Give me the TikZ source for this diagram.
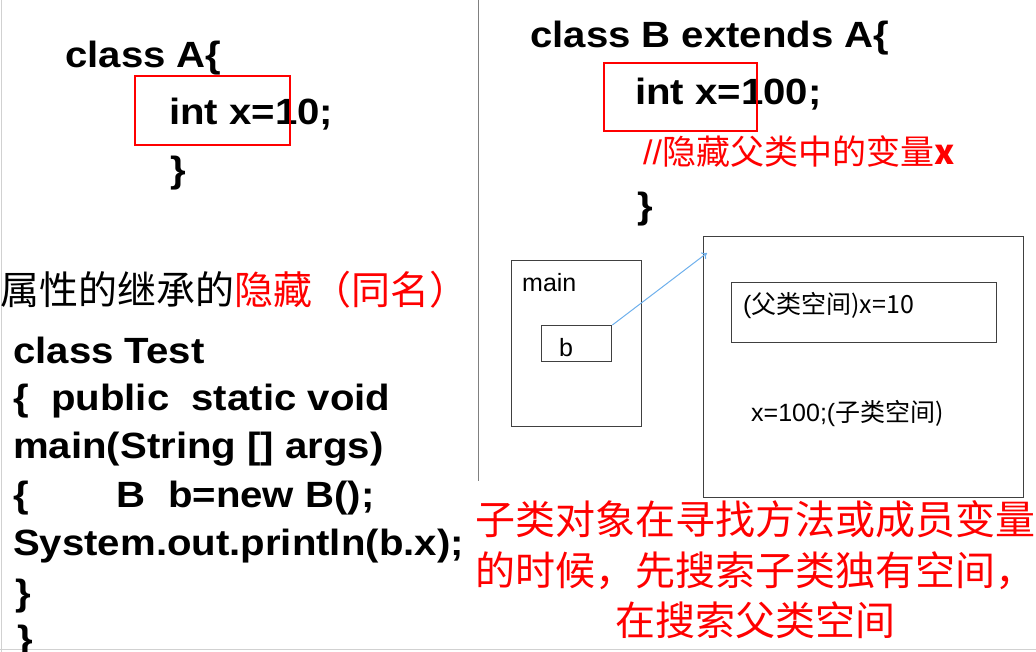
\documentclass[tikz,border=0pt]{standalone}
\usepackage{fontspec}
\setmainfont{Liberation Sans}
\newfontfamily\cjk{Noto Sans CJK SC}
\newfontfamily\codefont[FakeStretch=1.1]{Liberation Sans}
\usepackage{xcolor}
\definecolor{boxgray}{gray}{0.25}
\definecolor{edgegray}{gray}{0.82}
\definecolor{arrowblue}{RGB}{110,176,236}
\usetikzlibrary{arrows.meta}

\begin{document}
\begin{tikzpicture}[x=1pt,y=-1pt,
  code/.style={font=\codefont\bfseries\fontsize{36.5}{44}\selectfont, anchor=base west, inner sep=0pt},
  lbl/.style={font=\fontsize{25}{30}\selectfont, anchor=base west, inner sep=0pt},
  box/.style={draw=boxgray, line width=1.4pt, inner sep=0pt, anchor=north west},
  hlbox/.style={draw=red, line width=2.4pt, inner sep=0pt, anchor=north west},
  ref/.style={draw=arrowblue, line width=1pt, -{To[length=5pt,width=8pt]}}]
\useasboundingbox (0,0) rectangle (1036,652);
\draw[edgegray, line width=1.2pt] (1.5,0) -- (1.5,652) (0,649.5) -- (1036,649.5);
\draw[gray, line width=1pt] (478,0) -- (478,481);

\node[code] (clsA) at (65,68) {class A\{};
\node[code] (intA) at (169,125) {int x=10;};
\node[code] (endA) at (170,183) {\}};
\node[hlbox, minimum width=155, minimum height=69] (hlA) at (134,75) {};

\node[code] (clsB) at (530,48) {class B extends A\{};
\node[code] (intB) at (635,105) {int x=100;};
\node[anchor=west, inner sep=0pt, text=red, font=\fontsize{34}{40}\selectfont] (hide) at (643,151) {//\cjk{隐藏父类中的变量}\textbf{x}};
\node[code] (endB) at (637,219) {\}};
\node[hlbox, minimum width=153, minimum height=68] (hlB) at (603,62) {};

\node[anchor=west, inner sep=0pt, font=\cjk\fontsize{39}{39}\selectfont] (title) at (0,290) {属性的继承的\textcolor{red}{隐藏（同名）}};

\node[code] (test1) at (13,363) {class Test};
\node[code] (test2) at (13,410) {\{\ \ public\ \ static void};
\node[code] (test3) at (13,458) {main(String [] args)};
\node[code] (test4) at (13,507) {\{\hspace{88pt}B\ \ b=new B();};
\node[code] (test5) at (13,555) {System.out.println(b.x);};
\node[code] (test6) at (15,605) {\}};
\node[code] (test7) at (17,651) {\}};

\node[box, minimum width=130, minimum height=166] (mainbox) at (511,260) {};
\node[lbl] (mainlbl) at (522,291) {main};
\node[box, minimum width=70, minimum height=36] (bbox) at (541,325) {};
\node[lbl] (blbl) at (559,356) {b};

\node[box, minimum width=320, minimum height=261] (heap) at (703,236) {};
\node[box, minimum width=265, minimum height=60] (superbox) at (731,282) {};
\node[lbl] (superlbl) at (743,313) {(\cjk{父类空间})x=10};
\node[lbl] (sublbl) at (751,421) {x=100;(\cjk{子类空间})};

\coordinate (heapin) at (707,253);
\draw[ref] (bbox.north east) -- (heapin);

\node[align=center, inner sep=0pt, text=red, font=\cjk\fontsize{40}{50.5}\selectfont] (rule) at (755,570) {子类对象在寻找方法或成员变量\\的时候，先搜索子类独有空间，\\在搜索父类空间};
\end{tikzpicture}
\end{document}
